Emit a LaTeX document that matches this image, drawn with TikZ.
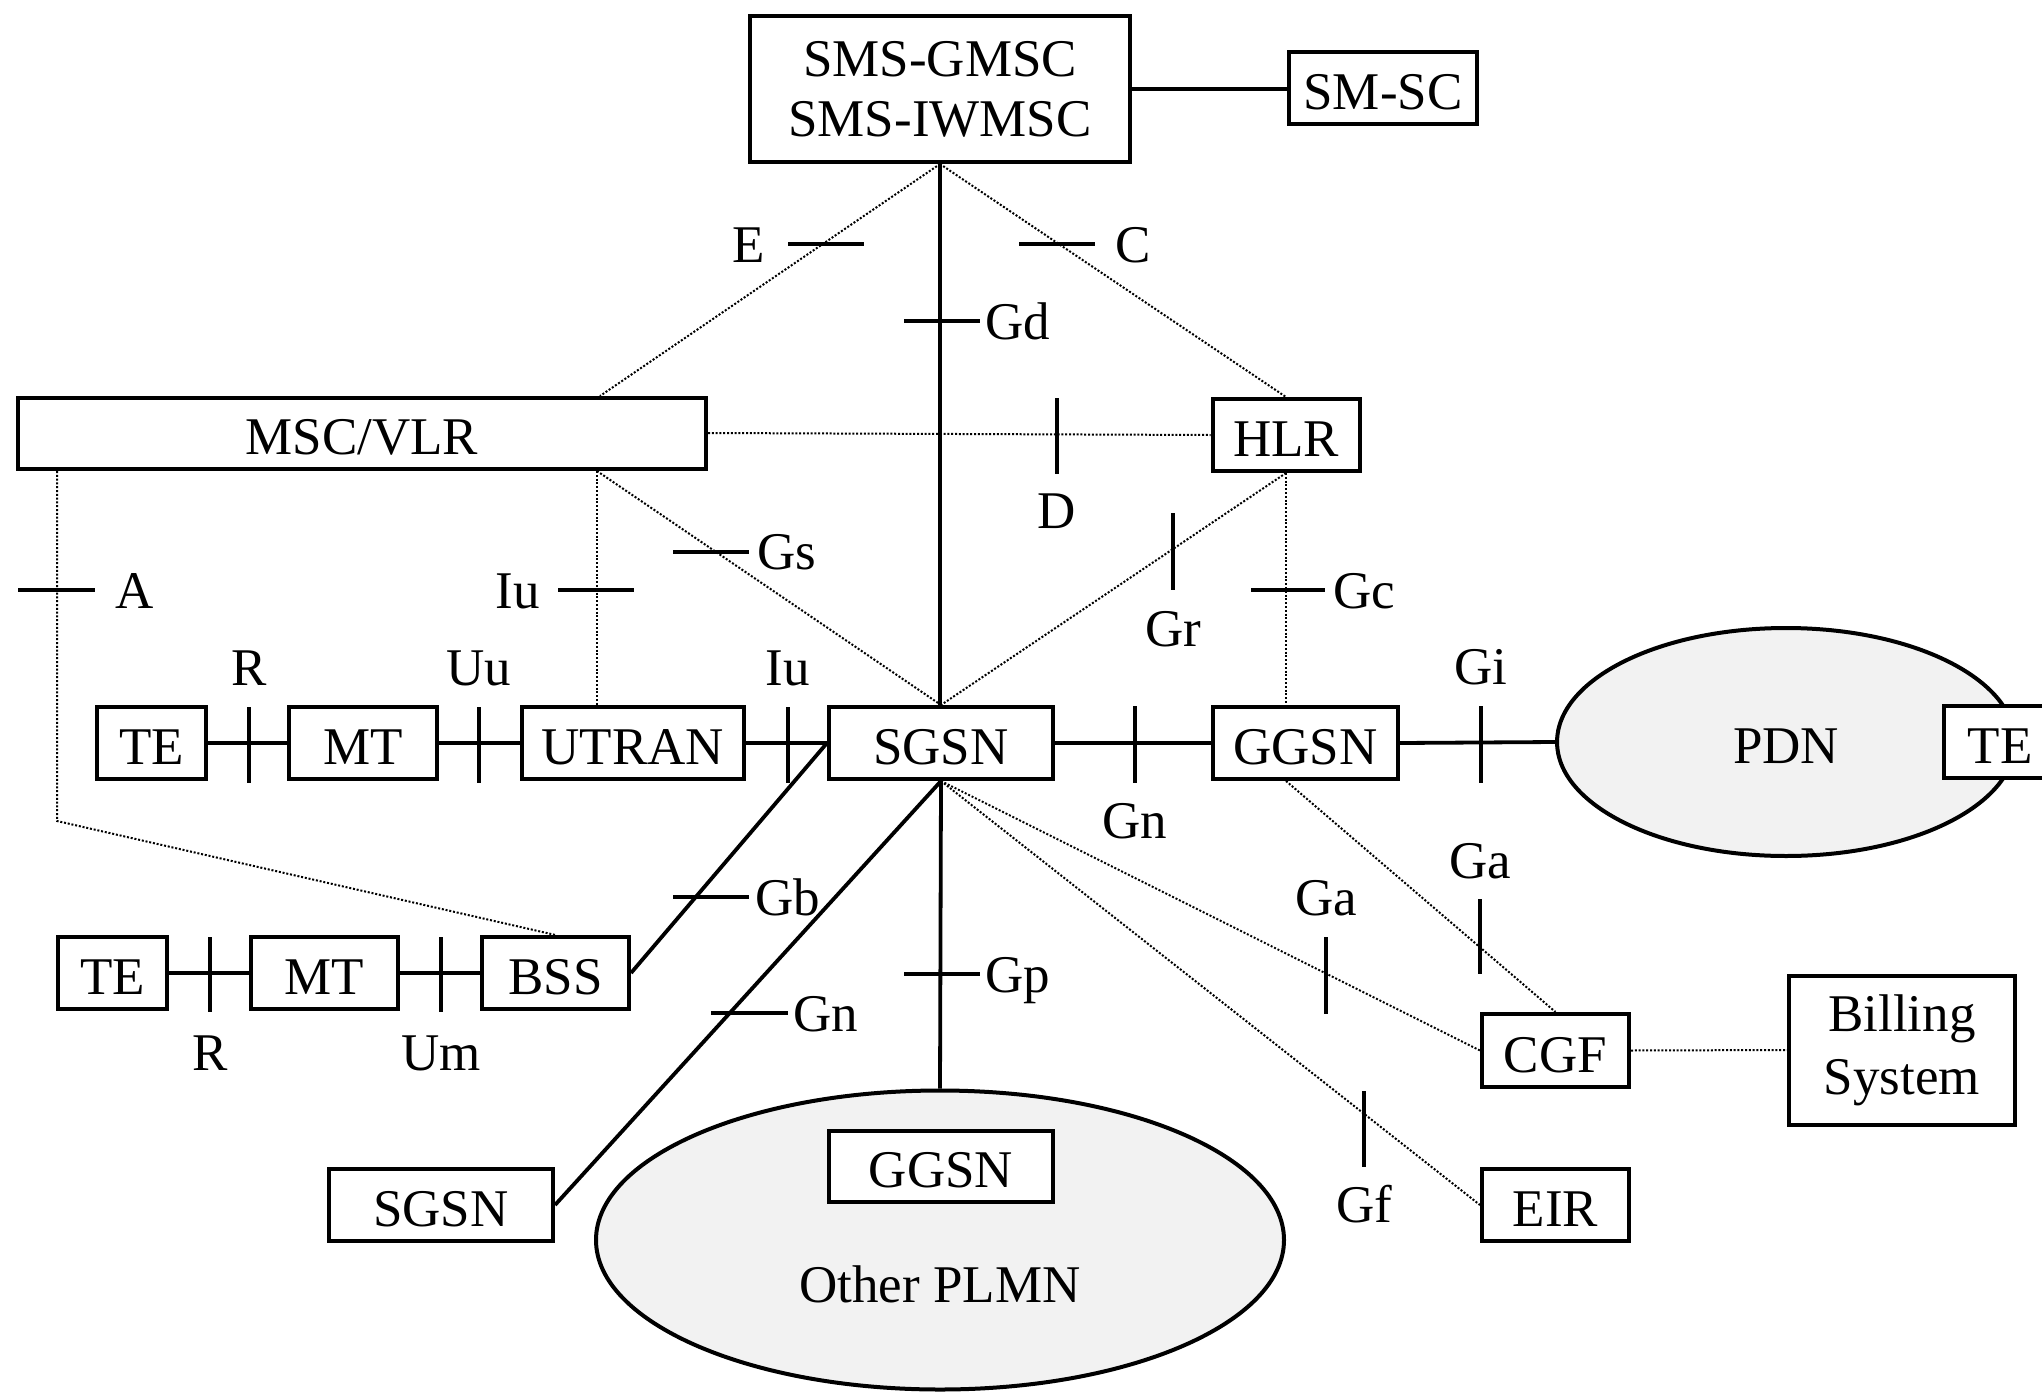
\documentclass[tikz,border=0pt]{standalone}
\usepackage{fontspec}
\setmainfont{Liberation Serif}
\usetikzlibrary{shapes.geometric,calc}
\definecolor{cloudgray}{HTML}{F2F2F2}
\newcommand\figfont{\fontsize{53}{63}\selectfont}
\newcommand\figfontb{\fontsize{53}{60}\selectfont}
\begin{document}
\begin{tikzpicture}[x=1pt,y=-1pt,
  box/.style={draw,line width=4pt,fill=white,inner sep=0pt,font=\figfont,align=center},
  onebox/.style={box,text height=43pt,text depth=0pt},
  cloud/.style={ellipse,draw,line width=4pt,fill=cloudgray,inner sep=0pt,font=\figfont,text height=43pt,text depth=0pt},
  link/.style={line width=3.8pt},
  sig/.style={line width=2pt,dash pattern=on 2pt off 1.8pt},
  tick/.style={line width=3.8pt},
  lab/.style={inner sep=0pt,font=\figfont,text height=36pt,text depth=0pt}]
\useasboundingbox (0,0) rectangle (2042,1394);

% clouds
\node[cloud,minimum width=458,minimum height=228] (pdn) at (1786,742) {PDN};
\node[cloud,minimum width=688,minimum height=299] (plmn) at (940,1240) {};
\node[lab] (plmnt) at (940,1284) {Other PLMN};

% boxes
\node[box,font=\figfontb,minimum width=380,minimum height=146] (smsc) at (940,89) {SMS-GMSC\\SMS-IWMSC};
\node[onebox,minimum width=188,minimum height=72] (smssc) at (1383,88) {SM-SC};
\node[onebox,minimum width=688,minimum height=71] (msc) at (362,433) {MSC/VLR};
\node[onebox,minimum width=147,minimum height=72] (hlr) at (1286,435) {HLR};
\node[onebox,minimum width=109,minimum height=72] (te1) at (151.5,743) {TE};
\node[onebox,minimum width=148,minimum height=72] (mt1) at (363,743) {MT};
\node[onebox,minimum width=222,minimum height=72] (utran) at (633,743) {UTRAN};
\node[onebox,minimum width=224,minimum height=72] (sgsn) at (941,743) {SGSN};
\node[onebox,minimum width=185,minimum height=72] (ggsn) at (1305.5,743) {GGSN};
\node[onebox,minimum width=112,minimum height=72] (te3) at (2000,742) {TE};
\node[onebox,minimum width=109,minimum height=72] (te2) at (112.5,973) {TE};
\node[onebox,minimum width=147,minimum height=72] (mt2) at (324.5,973) {MT};
\node[onebox,minimum width=147,minimum height=72] (bss) at (555.5,973) {BSS};
\node[onebox,minimum width=224,minimum height=72] (sgsnb) at (441,1205) {SGSN};
\node[onebox,minimum width=224,minimum height=71] (ggsnb) at (941,1166) {GGSN};
\node[onebox,minimum width=147,minimum height=73] (cgf) at (1555.5,1050.5) {CGF};
\node[box,minimum width=226,minimum height=149] (bill) at (1902,1050) {Billing\\System};
\node[onebox,minimum width=147,minimum height=72] (eir) at (1555.5,1205) {EIR};

% free ends on the MSC/VLR box
\coordinate (mscE) at (600,396);
\coordinate (mscA) at (57,471);
\coordinate (mscI) at (597,471);

% solid links
\draw[link] (smsc.east) -- (smsc.east -| smssc.west);
\draw[link] (smsc.south) -- (smsc.south |- sgsn.north);
\draw[link] (te1) -- (mt1);
\draw[link] (mt1) -- (utran);
\draw[link] (utran) -- (sgsn);
\draw[link] (sgsn) -- (ggsn);
\draw[link] (ggsn.east) -- (pdn.west);
\draw[link] (te2) -- (mt2);
\draw[link] (mt2) -- (bss);
\draw[link] (bss.east) -- (sgsn.west);
\draw[link] (sgsn.south) -- (sgsnb.east);
\draw[link] (sgsn.south) -- (plmn.north);

% signalling (dotted)
\draw[sig] (smsc.south) -- (mscE);
\draw[sig] (smsc.south) -- (hlr.north);
\draw[sig] (msc.east) -- (hlr.west);
\draw[sig] (mscA) -- ++(0,350) -- (bss.north);
\draw[sig] (mscI) -- (mscI |- utran.north);
\draw[sig] (mscI) -- (sgsn.north);
\draw[sig] (hlr.south) -- (sgsn.north);
\draw[sig] (hlr.south) -- (hlr.south |- ggsn.north);
\draw[sig] (hlr.south |- ggsn.south) -- (cgf.north);
\draw[sig] (sgsn.south) -- (cgf.west);
\draw[sig] (sgsn.south) -- (eir.west);
\draw[sig] (cgf.east) -- (bill.west);

% interface ticks
\draw[tick] (788,244) -- (864,244);
\draw[tick] (1019,244) -- (1095,244);
\draw[tick] (904,321) -- (980,321);
\draw[tick] (1057,398) -- (1057,474);
\draw[tick] (1173,513) -- (1173,590);
\draw[tick] (1251,590) -- (1325,590);
\draw[tick] (673,552) -- (749,552);
\draw[tick] (558,590) -- (634,590);
\draw[tick] (18,590) -- (95,590);
\draw[tick] (249,707) -- (249,783);
\draw[tick] (479,707) -- (479,783);
\draw[tick] (788,707) -- (788,783);
\draw[tick] (1135,706) -- (1135,783);
\draw[tick] (1481,706) -- (1481,783);
\draw[tick] (210,937) -- (210,1012);
\draw[tick] (441,937) -- (441,1012);
\draw[tick] (673,897) -- (749,897);
\draw[tick] (711,1013) -- (788,1013);
\draw[tick] (904,974) -- (980,974);
\draw[tick] (1326,937) -- (1326,1014);
\draw[tick] (1480,899) -- (1480,974);
\draw[tick] (1364,1091) -- (1364,1167);

% interface labels
\node[lab] (lE) at (749,244) {E};
\node[lab] (lC) at (1133,244) {C};
\node[lab,anchor=west] (lGd) at (985,321) {Gd};
\node[lab] (lD) at (1057,510) {D};
\node[lab] (lGr) at (1173,628) {Gr};
\node[lab,anchor=west] (lGc) at (1333,590) {Gc};
\node[lab,anchor=west] (lGs) at (757,551) {Gs};
\node[lab,anchor=east] (lIu1) at (540,590) {Iu};
\node[lab,anchor=west] (lA) at (115,590) {A};
\node[lab] (lR1) at (249,667) {R};
\node[lab] (lUu) at (479,667) {Uu};
\node[lab] (lIu2) at (788,667) {Iu};
\node[lab] (lGi) at (1481,666) {Gi};
\node[lab] (lGn1) at (1135,820) {Gn};
\node[lab] (lGa2) at (1480,860) {Ga};
\node[lab] (lGa1) at (1326,897) {Ga};
\node[lab,anchor=west] (lGb) at (755,897) {Gb};
\node[lab,anchor=west] (lGn2) at (793,1013) {Gn};
\node[lab,anchor=west] (lGp) at (985,974) {Gp};
\node[lab] (lR2) at (210,1052) {R};
\node[lab] (lUm) at (441,1052) {Um};
\node[lab] (lGf) at (1364,1204) {Gf};
\end{tikzpicture}
\end{document}
